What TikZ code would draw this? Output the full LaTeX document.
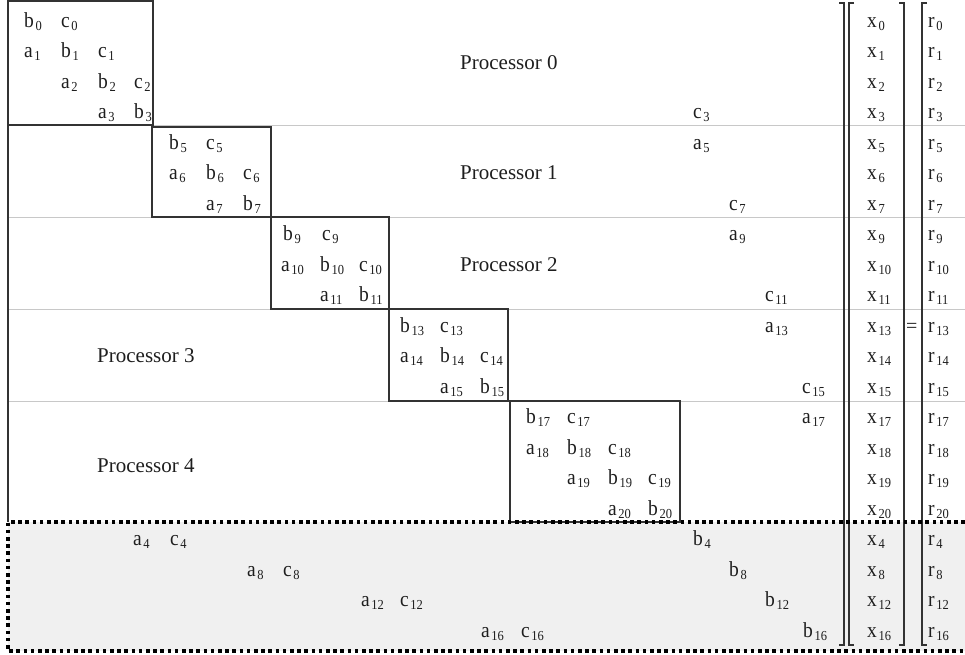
\documentclass[tikz,border=0pt]{standalone}
\usepackage{graphicx}
\usepackage{fontspec}
\setmainfont{Liberation Serif}
\definecolor{txt}{HTML}{1E1E1E}
\definecolor{linec}{HTML}{333333}
\definecolor{sepc}{HTML}{C8C8C8}
\definecolor{fillc}{HTML}{F0F0F0}
\newcommand{\mel}[2]{\scalebox{1}[1.1]{#1\kern1.6pt\raisebox{-3pt}{\fontsize{12.5}{12.5}\selectfont #2}}}
\tikzset{
  elt/.style={anchor=base west, inner sep=0pt, text=txt, font=\fontsize{19.5}{19.5}\selectfont},
  proc/.style={anchor=base west, inner sep=0pt, text=txt, font=\fontsize{21}{21}\selectfont},
  blk/.style={draw=linec, line width=1.3pt},
  sepl/.style={draw=sepc, line width=0.8pt},
  brk/.style={draw=linec, line width=1.6pt},
  lbrk/.style={draw=linec, line width=2.6pt},
  dotl/.style={draw=black, line width=3.5pt, dash pattern=on 3.6pt off 3.6pt}
}
\begin{document}
\begin{tikzpicture}[x=1pt,y=-1pt]
\useasboundingbox (0,0) rectangle (965,654);
% shaded region
\fill[fillc] (8,522) rectangle (965,651);
% separators
\foreach \yy in {125,217,309,401} \draw[sepl] (8,\yy) -- (965,\yy);
% processor blocks
\draw[blk] (8,1) rectangle (153,125);
\draw[blk] (152,127) rectangle (271,217);
\draw[blk] (271,217) rectangle (389,309);
\draw[blk] (389,309) rectangle (508,401);
\draw[blk] (510,401) rectangle (680,522);
% matrix left bracket
\draw[lbrk] (8,0) -- (8,522);
% right brackets
\draw[brk] (839,3) -- (844,3) -- (844,645) -- (839,645);
\draw[brk] (854,3) -- (849,3) -- (849,645) -- (854,645);
\draw[brk] (899,3) -- (904,3) -- (904,645) -- (899,645);
\draw[brk] (927,3) -- (922,3) -- (922,645) -- (927,645);
% dotted region border
\draw[dotl] (965,522) -- (8,522) -- (8,651) -- (965,651);
% processor labels
\node[proc] (p0) at (460,69) {Processor 0};
\node[proc] (p1) at (460,179.5) {Processor 1};
\node[proc] (p2) at (460,271) {Processor 2};
\node[proc] (p3) at (97,362.5) {Processor 3};
\node[proc] (p4) at (97,472) {Processor 4};
% row 0-3
\node[elt] (b0) at (24,27) {\mel{b}{0}};
\node[elt] (c0) at (61,27) {\mel{c}{0}};
\node[elt] (a1) at (24,57.5) {\mel{a}{1}};
\node[elt] (b1) at (61,57.5) {\mel{b}{1}};
\node[elt] (c1) at (98,57.5) {\mel{c}{1}};
\node[elt] (a2) at (61,88) {\mel{a}{2}};
\node[elt] (b2) at (98,88) {\mel{b}{2}};
\node[elt] (c2) at (134,88) {\mel{c}{2}};
\node[elt] (a3) at (98,118.5) {\mel{a}{3}};
\node[elt] (b3) at (134,118.5) {\mel{b}{3}};
\node[elt] (c3) at (693,118.5) {\mel{c}{3}};
% rows 5-7
\node[elt] (a5) at (693,149) {\mel{a}{5}};
\node[elt] (b5) at (169,149) {\mel{b}{5}};
\node[elt] (c5) at (206,149) {\mel{c}{5}};
\node[elt] (a6) at (169,179.5) {\mel{a}{6}};
\node[elt] (b6) at (206,179.5) {\mel{b}{6}};
\node[elt] (c6) at (243,179.5) {\mel{c}{6}};
\node[elt] (a7) at (206,210) {\mel{a}{7}};
\node[elt] (b7) at (243,210) {\mel{b}{7}};
\node[elt] (c7) at (729,210) {\mel{c}{7}};
% rows 9-11
\node[elt] (a9) at (729,240.5) {\mel{a}{9}};
\node[elt] (b9) at (283,240.5) {\mel{b}{9}};
\node[elt] (c9) at (322,240.5) {\mel{c}{9}};
\node[elt] (a10) at (281,271) {\mel{a}{10}};
\node[elt] (b10) at (320,271) {\mel{b}{10}};
\node[elt] (c10) at (359,271) {\mel{c}{10}};
\node[elt] (a11) at (320,301.5) {\mel{a}{11}};
\node[elt] (b11) at (359,301.5) {\mel{b}{11}};
\node[elt] (c11) at (765,301.5) {\mel{c}{11}};
% rows 13-15
\node[elt] (a13) at (765,332) {\mel{a}{13}};
\node[elt] (b13) at (400,332) {\mel{b}{13}};
\node[elt] (c13) at (440,332) {\mel{c}{13}};
\node[elt] (a14) at (400,362.5) {\mel{a}{14}};
\node[elt] (b14) at (440,362.5) {\mel{b}{14}};
\node[elt] (c14) at (480,362.5) {\mel{c}{14}};
\node[elt] (a15) at (440,393) {\mel{a}{15}};
\node[elt] (b15) at (480,393) {\mel{b}{15}};
\node[elt] (c15) at (802,393) {\mel{c}{15}};
% rows 17-20
\node[elt] (a17) at (802,423.5) {\mel{a}{17}};
\node[elt] (b17) at (526,423.5) {\mel{b}{17}};
\node[elt] (c17) at (567,423.5) {\mel{c}{17}};
\node[elt] (a18) at (526,454) {\mel{a}{18}};
\node[elt] (b18) at (567,454) {\mel{b}{18}};
\node[elt] (c18) at (608,454) {\mel{c}{18}};
\node[elt] (a19) at (567,484.5) {\mel{a}{19}};
\node[elt] (b19) at (608,484.5) {\mel{b}{19}};
\node[elt] (c19) at (648,484.5) {\mel{c}{19}};
\node[elt] (a20) at (608,515) {\mel{a}{20}};
\node[elt] (b20) at (648,515) {\mel{b}{20}};
% bottom rows
\node[elt] (a4) at (133,545.5) {\mel{a}{4}};
\node[elt] (c4) at (170,545.5) {\mel{c}{4}};
\node[elt] (b4) at (693,545.5) {\mel{b}{4}};
\node[elt] (a8) at (247,576) {\mel{a}{8}};
\node[elt] (c8) at (283,576) {\mel{c}{8}};
\node[elt] (b8) at (729,576) {\mel{b}{8}};
\node[elt] (a12) at (361,606.5) {\mel{a}{12}};
\node[elt] (c12) at (400,606.5) {\mel{c}{12}};
\node[elt] (b12) at (765,606.5) {\mel{b}{12}};
\node[elt] (a16) at (481,637) {\mel{a}{16}};
\node[elt] (c16) at (521,637) {\mel{c}{16}};
\node[elt] (b16) at (803,637) {\mel{b}{16}};
% x and r vectors
\foreach \k/\i in {0/0,1/1,2/2,3/3,4/5,5/6,6/7,7/9,8/10,9/11,10/13,11/14,12/15,13/17,14/18,15/19,16/20,17/4,18/8,19/12,20/16}{
  \node[elt] (x\i) at (867,27+30.5*\k) {\mel{x}{\i}};
  \node[elt] (r\i) at (928,27+30.5*\k) {\mel{r}{\i}};
}
\node[elt, font=\fontsize{20}{20}\selectfont] (eq) at (906,332) {=};
\end{tikzpicture}
\end{document}
